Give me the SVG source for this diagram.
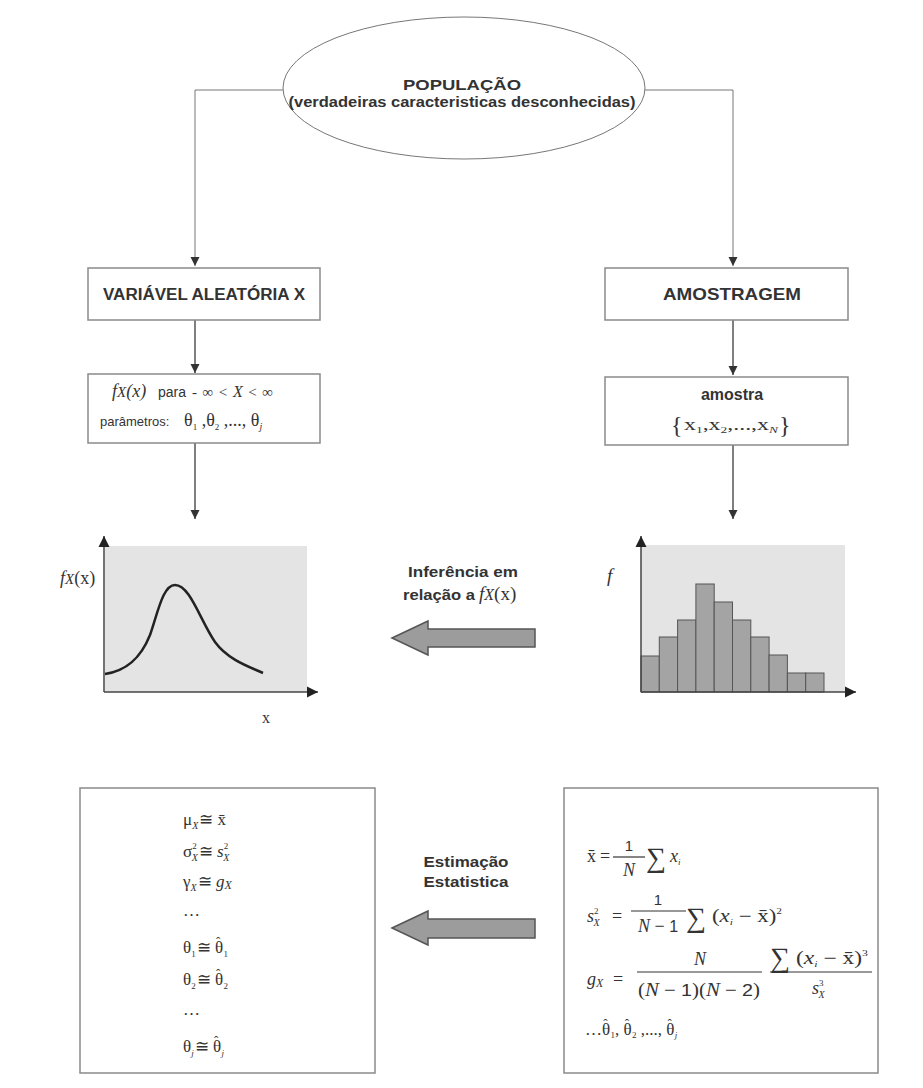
<svg xmlns="http://www.w3.org/2000/svg" width="923" height="1088" viewBox="0 0 923 1088">
<style>
.b{font-family:"Liberation Sans",Arial,sans-serif;font-weight:bold;fill:#333}
.s{font-family:"Liberation Sans",Arial,sans-serif;fill:#333}
.m{font-family:"Liberation Serif","Times New Roman",serif;fill:#333}
.i{font-style:italic}
.box{fill:#fff;stroke:#8a8a8a;stroke-width:1.5}
.con{fill:none;stroke:#555;stroke-width:1.5}
.thin{fill:none;stroke:#777;stroke-width:1}
.bg{fill:#e4e4e4}
.axis{fill:none;stroke:#444;stroke-width:1.5}
.bar{fill:#a4a4a4;stroke:#555;stroke-width:1}
.big{fill:#9c9c9c;stroke:#555;stroke-width:1.5}
.fr{stroke:#333;stroke-width:1.2}
</style>
<defs>
<marker id="ah" markerUnits="userSpaceOnUse" markerWidth="10" markerHeight="10" refX="9" refY="5" orient="auto">
<path d="M0,0.5 L9,5 L0,9.5 z" fill="#333"/>
</marker>
<marker id="ax" markerUnits="userSpaceOnUse" markerWidth="12" markerHeight="12" refX="11" refY="6" orient="auto">
<path d="M0,0.5 L11,6 L0,11.5 z" fill="#222"/>
</marker>
</defs>
<rect width="923" height="1088" fill="#fff"/>

<g id="connectors">
<path class="thin" d="M283,90 H195 V266" marker-end="url(#ah)"/>
<path class="thin" d="M645,90 H733 V266" marker-end="url(#ah)"/>
<path class="con" d="M195,320 V373" marker-end="url(#ah)"/>
<path class="con" d="M195,443 V519" marker-end="url(#ah)"/>
<path class="con" d="M733,320 V375" marker-end="url(#ah)"/>
<path class="con" d="M733,445 V519" marker-end="url(#ah)"/>
</g>

<g id="populacao">
<ellipse cx="464" cy="88" rx="181" ry="71" fill="#fff" stroke="#777" stroke-width="1"/>
<text class="b" x="462" y="90" font-size="15" text-anchor="middle" textLength="118" lengthAdjust="spacingAndGlyphs">POPULAÇÃO</text>
<text class="b" x="462" y="107" font-size="14" text-anchor="middle" textLength="347" lengthAdjust="spacingAndGlyphs">(verdadeiras caracteristicas desconhecidas)</text>
</g>

<g id="variavel">
<rect class="box" x="88" y="268" width="232" height="52"/>
<text class="b" x="204" y="300" font-size="16" text-anchor="middle" textLength="202" lengthAdjust="spacingAndGlyphs">VARIÁVEL ALEATÓRIA X</text>
</g>

<g id="amostragem">
<rect class="box" x="605" y="268" width="243" height="52"/>
<text class="b" x="732" y="300" font-size="17" text-anchor="middle" textLength="138" lengthAdjust="spacingAndGlyphs">AMOSTRAGEM</text>
</g>

<g id="fx-box">
<rect class="box" x="88" y="374" width="232" height="69"/>
<text class="m" x="112" y="397" font-size="18"><tspan class="i">f</tspan><tspan class="i" font-size="15">X</tspan><tspan class="i">(x)</tspan></text>
<text class="s" x="158" y="397" font-size="14">para</text>
<text class="m" x="192" y="397" font-size="15" textLength="81" lengthAdjust="spacing">-∞&lt;<tspan class="i" font-size="16">X</tspan>&lt;∞</text>
<text class="s" x="100" y="426" font-size="13">parâmetros:</text>
<text class="m" x="184" y="426" font-size="18">θ<tspan font-size="9" dy="4">1</tspan><tspan dy="-4"> ,θ</tspan><tspan font-size="9" dy="4">2</tspan><tspan dy="-4"> ,..., θ</tspan><tspan font-size="10" dy="4" class="i">j</tspan></text>
</g>

<g id="amostra-box">
<rect class="box" x="605" y="377" width="243" height="68"/>
<text class="b" x="732" y="400" font-size="16" text-anchor="middle">amostra</text>
<text class="m" x="671" y="433" font-size="24">{</text>
<text class="m" x="684" y="430" font-size="16" textLength="94" lengthAdjust="spacingAndGlyphs">x<tspan font-size="9" dy="3">1</tspan><tspan dy="-3">,x</tspan><tspan font-size="9" dy="3">2</tspan><tspan dy="-3">,...,x</tspan><tspan font-size="9" dy="3" class="i">N</tspan></text>
<text class="m" x="779" y="433" font-size="24">}</text>
</g>

<g id="plot-fx">
<rect class="bg" x="105" y="546" width="202" height="146"/>
<path class="axis" d="M104,692 V536" marker-end="url(#ax)"/>
<path class="axis" d="M104,692 H318" marker-end="url(#ax)"/>
<path d="M105,674 C125,671 140,660 150,635 C158,612 163,585 175,585 C190,585 200,620 215,642 C228,660 250,667 263,673" fill="none" stroke="#222" stroke-width="2.5"/>
<text class="m" x="60" y="584" font-size="18"><tspan class="i">f</tspan><tspan class="i" font-size="15">X</tspan>(x)</text>
<text class="m" x="262" y="723" font-size="16">x</text>
</g>

<g id="inferencia">
<text class="b" x="463" y="577" font-size="15" text-anchor="middle" textLength="110" lengthAdjust="spacingAndGlyphs">Inferência em</text>
<text class="b" x="403" y="600" font-size="15" textLength="72" lengthAdjust="spacingAndGlyphs">relação a</text>
<text class="m" x="479" y="600" font-size="19"><tspan class="i">f</tspan><tspan class="i" font-size="16">X</tspan>(x)</text>
<path class="big" d="M392,638 L428,621 L428,629 L535,629 L535,647 L428,647 L428,655 Z"/>
</g>

<g id="histograma">
<rect class="bg" x="641" y="545" width="204" height="147"/>
<rect class="bar" x="641" y="656" width="18.3" height="36"/>
<rect class="bar" x="659.3" y="637" width="18.3" height="55"/>
<rect class="bar" x="677.6" y="620" width="18.3" height="72"/>
<rect class="bar" x="695.9" y="584" width="18.3" height="108"/>
<rect class="bar" x="714.2" y="602" width="18.3" height="90"/>
<rect class="bar" x="732.5" y="620" width="18.3" height="72"/>
<rect class="bar" x="750.8" y="637" width="18.3" height="55"/>
<rect class="bar" x="769.1" y="655" width="18.3" height="37"/>
<rect class="bar" x="787.4" y="673" width="18.3" height="19"/>
<rect class="bar" x="805.7" y="673" width="18.3" height="19"/>
<path class="axis" d="M641,692 V536" marker-end="url(#ax)"/>
<path class="axis" d="M641,692 H856" marker-end="url(#ax)"/>
<text class="m i" x="607" y="582" font-size="19">f</text>
</g>

<g id="estimacao">
<text class="b" x="466" y="867" font-size="15" text-anchor="middle" textLength="85" lengthAdjust="spacingAndGlyphs">Estimação</text>
<text class="b" x="466" y="887" font-size="15" text-anchor="middle" textLength="85" lengthAdjust="spacingAndGlyphs">Estatistica</text>
<path class="big" d="M392,928 L428,911 L428,919 L535,919 L535,938 L428,938 L428,945 Z"/>
</g>

<g id="estimativas">
<rect class="box" x="80" y="788" width="295" height="285"/>
<g class="m" font-size="17">
<text x="183" y="825">μ<tspan font-size="10" class="i" dy="4">X</tspan><tspan dy="-4" dx="1">≅ x̄</tspan></text>
<text x="183" y="857">σ<tspan font-size="9" dy="-8">2</tspan><tspan font-size="10" class="i" dx="-5" dy="12">X</tspan><tspan dy="-4" dx="1">≅ </tspan><tspan class="i">s</tspan><tspan font-size="9" dy="-8">2</tspan><tspan font-size="10" class="i" dx="-5" dy="12">X</tspan></text>
<text x="183" y="887">γ<tspan font-size="10" class="i" dy="4">X</tspan><tspan dy="-4" dx="1">≅ </tspan><tspan class="i">g</tspan><tspan class="i" font-size="12" dy="2">X</tspan></text>
<text x="183" y="916">…</text>
<text x="183" y="953">θ<tspan font-size="9" dy="4">1</tspan><tspan dy="-4" dx="1">≅ θ</tspan><tspan font-size="13" dx="-7" dy="-7">ˆ</tspan><tspan font-size="9" dx="3" dy="11">1</tspan></text>
<text x="183" y="985">θ<tspan font-size="9" dy="4">2</tspan><tspan dy="-4" dx="1">≅ θ</tspan><tspan font-size="13" dx="-7" dy="-7">ˆ</tspan><tspan font-size="9" dx="3" dy="11">2</tspan></text>
<text x="183" y="1015">…</text>
<text x="183" y="1052">θ<tspan font-size="9" class="i" dy="4">j</tspan><tspan dy="-4" dx="1">≅ θ</tspan><tspan font-size="13" dx="-7" dy="-7">ˆ</tspan><tspan font-size="9" class="i" dx="3" dy="11">j</tspan></text>
</g>
</g>

<g id="formulas">
<rect class="box" x="564" y="788" width="314" height="285"/>
<g class="m" font-size="18">
<text x="587" y="862">x̄</text>
<text x="600" y="862">=</text>
<text class="s" x="629" y="851" font-size="15" text-anchor="middle">1</text>
<line class="fr" x1="613" y1="857" x2="645" y2="857"/>
<text x="629" y="876" text-anchor="middle" class="i">N</text>
<text x="646" y="867" font-size="28">∑</text>
<text x="670" y="862"><tspan class="i">x</tspan><tspan font-size="9" dy="3" class="i">i</tspan></text>

<text x="587" y="922"><tspan class="i">s</tspan><tspan font-size="9" dy="-8">2</tspan><tspan font-size="10" class="i" dx="-5" dy="12">X</tspan></text>
<text x="612" y="922">=</text>
<text class="s" x="658" y="905" font-size="15" text-anchor="middle">1</text>
<line class="fr" x1="631" y1="911" x2="686" y2="911"/>
<text x="658" y="932" text-anchor="middle"><tspan class="i">N</tspan> − <tspan class="s" font-size="16">1</tspan></text>
<text x="686" y="927" font-size="28">∑</text>
<text x="712" y="922" textLength="70" lengthAdjust="spacingAndGlyphs">(<tspan class="i">x</tspan><tspan font-size="9" dy="3" class="i">i</tspan><tspan dy="-3"> − x̄)</tspan><tspan font-size="9" dy="-8">2</tspan></text>

<text x="587" y="985"><tspan class="i">g</tspan><tspan class="i" font-size="12" dy="2">X</tspan></text>
<text x="613" y="985">=</text>
<text x="700" y="965" text-anchor="middle" class="i">N</text>
<line class="fr" x1="637" y1="972" x2="762" y2="972"/>
<text x="638" y="996" textLength="122" lengthAdjust="spacingAndGlyphs">(<tspan class="i">N</tspan> − <tspan class="s" font-size="17">1</tspan>)(<tspan class="i">N</tspan> − <tspan class="s" font-size="17">2</tspan>)</text>
<text x="770" y="967" font-size="28">∑</text>
<text x="796" y="964" textLength="72" lengthAdjust="spacingAndGlyphs">(<tspan class="i">x</tspan><tspan font-size="9" dy="3" class="i">i</tspan><tspan dy="-3"> − x̄)</tspan><tspan font-size="9" dy="-8">3</tspan></text>
<line class="fr" x1="770" y1="972" x2="872" y2="972"/>
<text x="812" y="994"><tspan class="i">s</tspan><tspan font-size="9" dy="-8">3</tspan><tspan font-size="10" class="i" dx="-5" dy="12">X</tspan></text>

<text x="585" y="1035" font-size="17">…θ<tspan font-size="13" dx="-7" dy="-7">ˆ</tspan><tspan font-size="9" dx="3" dy="10">1</tspan><tspan dy="-3">, θ</tspan><tspan font-size="13" dx="-7" dy="-7">ˆ</tspan><tspan font-size="9" dx="3" dy="10">2</tspan><tspan dy="-3"> ,..., θ</tspan><tspan font-size="13" dx="-7" dy="-7">ˆ</tspan><tspan font-size="9" class="i" dx="3" dy="10">j</tspan></text>
</g>
</g>
</svg>
